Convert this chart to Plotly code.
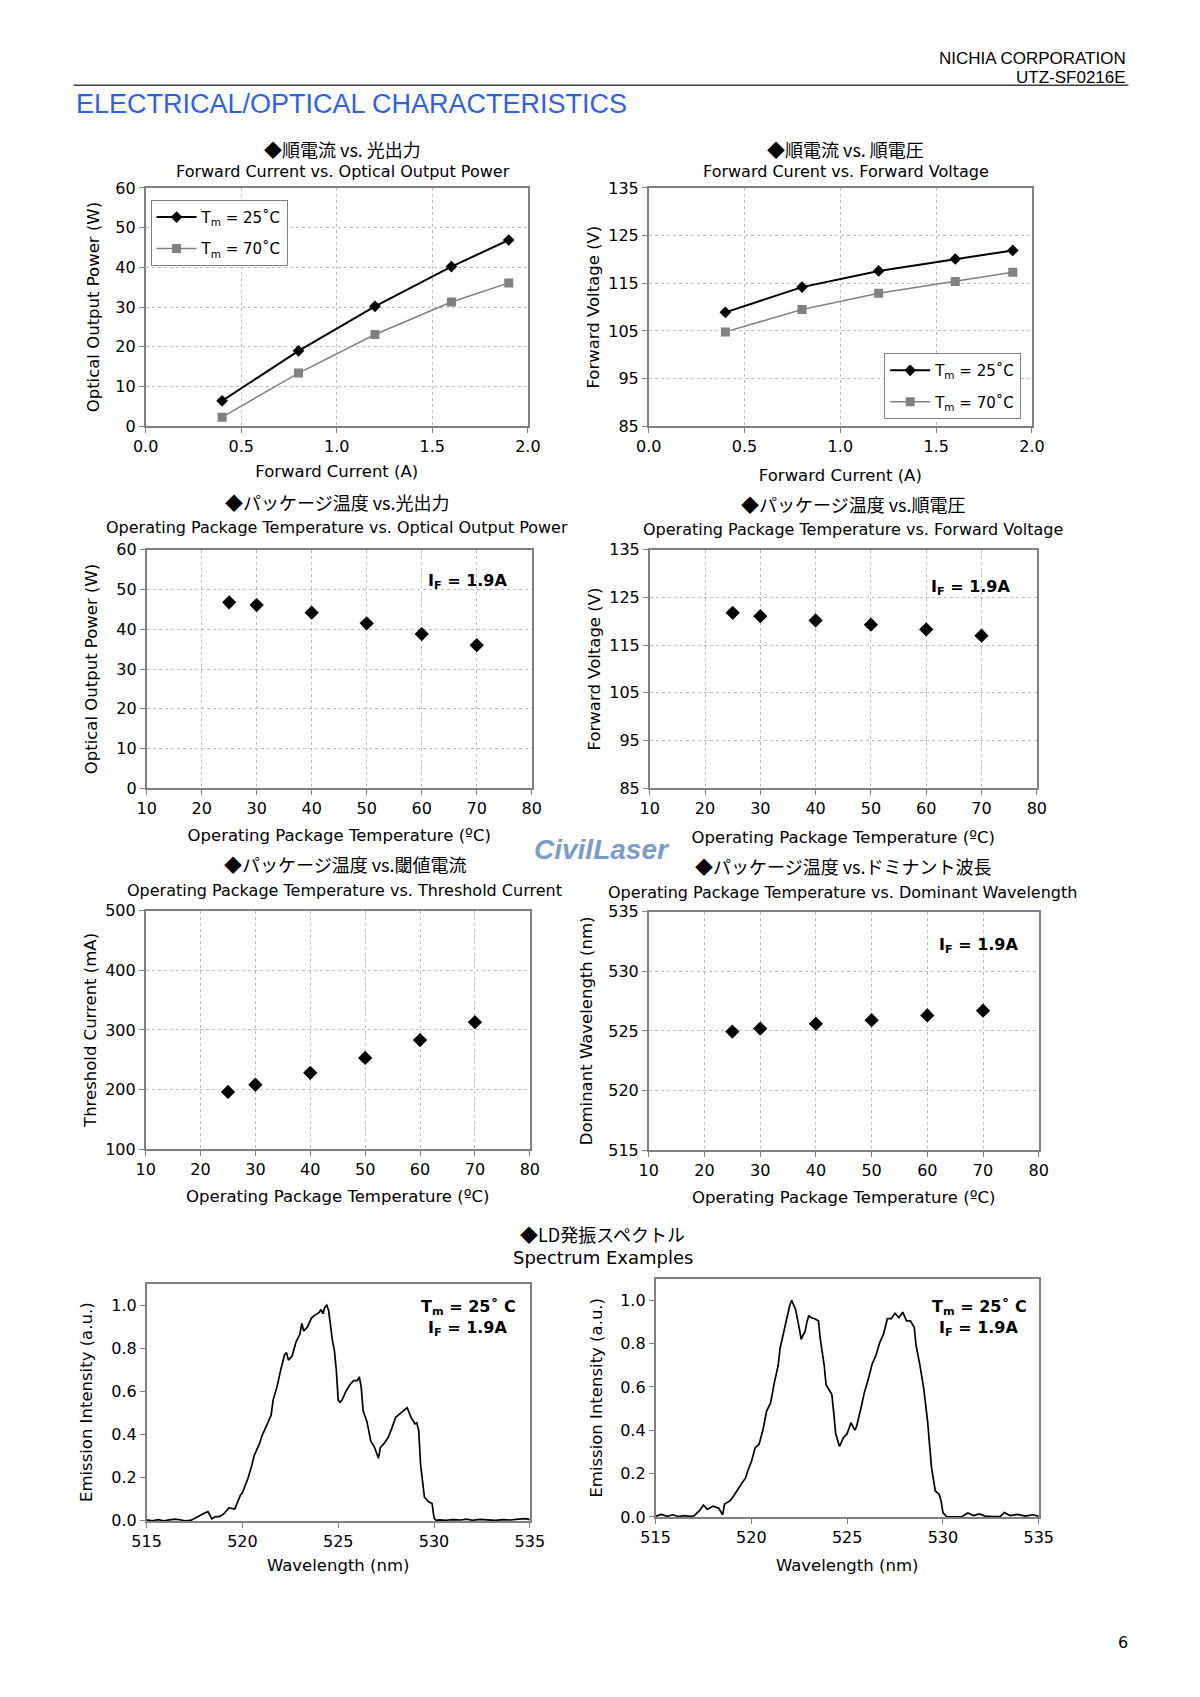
import plotly.graph_objects as go

W, H = 1200, 1697

# ---------------- data ----------------
fc_current = [0.4, 0.8, 1.2, 1.6, 1.9]
pow_25 = [6.4, 19.0, 30.2, 40.2, 46.9]
pow_70 = [2.3, 13.4, 23.1, 31.3, 36.1]
vf_25 = [108.9, 114.2, 117.6, 120.1, 121.9]
vf_70 = [104.8, 109.5, 112.9, 115.4, 117.3]

temps = [25, 30, 40, 50, 60, 70]
pow_t = [46.8, 46.1, 44.2, 41.5, 38.8, 36.0]
vf_t = [121.8, 121.1, 120.2, 119.3, 118.3, 117.0]
ith_t = [196, 208, 228, 253, 283, 313]
wl_t = [524.95, 525.2, 525.6, 525.9, 526.3, 526.7]

spec1_wl = [515.0, 515.3, 515.6, 515.9, 516.2, 516.5, 516.8, 517.0, 517.3, 517.5, 517.8, 518.0, 518.2,
            518.4, 518.6, 518.8, 519.0, 519.3, 519.6, 519.9, 520.0, 520.3, 520.5, 520.6, 520.9, 521.0,
            521.3, 521.5, 521.6, 521.8, 522.0, 522.2, 522.3, 522.4, 522.6, 522.8, 523.0, 523.1, 523.2,
            523.4, 523.6, 523.8, 524.0, 524.1, 524.2, 524.3, 524.4, 524.5, 524.7, 524.8, 524.9, 525.0,
            525.1, 525.2, 525.4, 525.6, 525.8, 526.0, 526.1, 526.2, 526.3, 526.5, 526.7, 526.9, 527.1,
            527.2, 527.4, 527.6, 527.8, 528.0, 528.2, 528.5, 528.6, 528.8, 529.0, 529.1, 529.2, 529.3,
            529.5, 529.7, 529.9, 530.0, 530.1, 530.3, 530.6, 531.0, 531.4, 531.7, 532.0, 532.4, 532.8,
            533.2, 533.6, 534.0, 534.4, 534.8, 535.0]
spec1_int = [0.005, 0.0, 0.006, 0.0, 0.005, 0.008, 0.004, 0.0, 0.002, 0.012, 0.025, 0.035, 0.043,
             0.01, 0.02, 0.02, 0.03, 0.06, 0.055, 0.12, 0.13, 0.2, 0.26, 0.30, 0.36, 0.39,
             0.45, 0.49, 0.56, 0.62, 0.70, 0.77, 0.78, 0.745, 0.765, 0.83, 0.865, 0.915, 0.88,
             0.90, 0.94, 0.955, 0.965, 0.98, 0.96, 0.99, 1.0, 0.975, 0.835, 0.79, 0.70, 0.56,
             0.55, 0.56, 0.60, 0.63, 0.65, 0.65, 0.668, 0.62, 0.51, 0.46, 0.37, 0.34, 0.29,
             0.34, 0.36, 0.385, 0.43, 0.48, 0.495, 0.52, 0.525, 0.48, 0.45, 0.455, 0.42, 0.26,
             0.11, 0.09, 0.08, 0.015, 0.003, 0.005, 0.003, 0.006, 0.004, 0.008, 0.003, 0.007, 0.004,
             0.002, 0.006, 0.004, 0.008, 0.01, 0.006]

spec2_wl = [515.0, 515.3, 515.6, 515.9, 516.2, 516.5, 516.8, 517.0, 517.3, 517.5, 517.7, 518.0, 518.3,
            518.5, 518.6, 518.9, 519.1, 519.3, 519.5, 519.7, 519.8, 520.0, 520.2, 520.4, 520.6, 520.8,
            521.0, 521.2, 521.4, 521.5, 521.7, 521.9, 522.0, 522.1, 522.2, 522.3, 522.5, 522.6, 522.7,
            522.8, 522.9, 523.0, 523.1, 523.3, 523.5, 523.6, 523.8, 523.9, 524.0, 524.2, 524.3, 524.4,
            524.6, 524.8, 525.0, 525.2, 525.4, 525.5, 525.7, 525.9, 526.1, 526.3, 526.5, 526.7, 526.9,
            527.1, 527.3, 527.5, 527.7, 527.9, 528.1, 528.3, 528.5, 528.6, 528.8, 529.0, 529.2, 529.4,
            529.6, 529.8, 529.9, 530.0, 530.2, 530.6, 531.0, 531.3, 531.6, 531.9, 532.2, 532.6, 533.0,
            533.2, 533.5, 533.9, 534.3, 534.7, 535.0]
spec2_int = [0.003, 0.012, 0.003, 0.01, 0.002, 0.006, 0.003, 0.005, 0.03, 0.055, 0.035, 0.05, 0.04,
             0.01, 0.06, 0.075, 0.10, 0.13, 0.155, 0.18, 0.21, 0.255, 0.32, 0.335, 0.40, 0.49,
             0.525, 0.62, 0.70, 0.78, 0.86, 0.945, 0.975, 1.0, 0.98, 0.96, 0.87, 0.82, 0.84,
             0.855, 0.90, 0.93, 0.92, 0.915, 0.905, 0.82, 0.70, 0.61, 0.595, 0.565, 0.48, 0.385,
             0.325, 0.365, 0.385, 0.435, 0.40, 0.42, 0.495, 0.575, 0.635, 0.705, 0.745, 0.805, 0.845,
             0.915, 0.915, 0.94, 0.92, 0.945, 0.905, 0.905, 0.875, 0.79, 0.70, 0.59, 0.44, 0.23,
             0.12, 0.105, 0.075, 0.02, 0.0, 0.0, 0.002, 0.018, 0.006, 0.014, 0.004, 0.002, 0.003,
             0.02, 0.006, 0.012, 0.004, 0.01, 0.003]

# ---------------- layout helpers ----------------
FONT = "DejaVu Sans"
JP = "Noto Sans CJK JP"


def dx(a, b):
    return [a / W, b / W]


def dy(top, bottom):
    return [1 - bottom / H, 1 - top / H]


panels = {
    1: (134, 526, 181, 422),
    2: (650, 1043, 181, 422),
    3: (135, 530, 547, 788),
    4: (651, 1048, 547, 788),
    5: (134, 528, 912, 1153),
    6: (650, 1050, 913, 1154),
    7: (135, 528, 1289, 1529),
    8: (657, 1050, 1284, 1525),
}

fig = go.Figure()

black_line = dict(color="black", width=2)
gray_line = dict(color="#808080", width=1.5)

# Panel 1
fig.add_trace(go.Scatter(x=fc_current, y=pow_25, mode="lines+markers", name="T<sub>m</sub> = 25˚C",
                         line=black_line, marker=dict(symbol="diamond", size=9, color="black"),
                         xaxis="x", yaxis="y", legend="legend", legendgroup="a"))
fig.add_trace(go.Scatter(x=fc_current, y=pow_70, mode="lines+markers", name="T<sub>m</sub> = 70˚C",
                         line=gray_line, marker=dict(symbol="square", size=9, color="#808080"),
                         xaxis="x", yaxis="y", legend="legend", legendgroup="b"))
# Panel 2
fig.add_trace(go.Scatter(x=fc_current, y=vf_25, mode="lines+markers", name="T<sub>m</sub> = 25˚C",
                         line=black_line, marker=dict(symbol="diamond", size=9, color="black"),
                         xaxis="x2", yaxis="y2", legend="legend2", legendgroup="c"))
fig.add_trace(go.Scatter(x=fc_current, y=vf_70, mode="lines+markers", name="T<sub>m</sub> = 70˚C",
                         line=gray_line, marker=dict(symbol="square", size=9, color="#808080"),
                         xaxis="x2", yaxis="y2", legend="legend2", legendgroup="d"))
# Panels 3-6
for k, vals in zip([3, 4, 5, 6], [pow_t, vf_t, ith_t, wl_t]):
    fig.add_trace(go.Scatter(x=temps, y=vals, mode="markers", showlegend=False,
                             marker=dict(symbol="diamond", size=11, color="black"),
                             xaxis=f"x{k}", yaxis=f"y{k}"))
# Spectra
fig.add_trace(go.Scatter(x=spec1_wl, y=spec1_int, mode="lines", showlegend=False,
                         line=dict(color="black", width=1.7), xaxis="x7", yaxis="y7"))
fig.add_trace(go.Scatter(x=spec2_wl, y=spec2_int, mode="lines", showlegend=False,
                         line=dict(color="black", width=1.7), xaxis="x8", yaxis="y8"))

axis_cfg = {
    1: dict(xr=[0, 2], xd=0.5, xf=".1f", yr=[0, 60], yd=10, yf="d",
            xt="Forward Current (A)", yt="Optical Output Power (W)", grid=True),
    2: dict(xr=[0, 2], xd=0.5, xf=".1f", yr=[85, 135], yd=10, yf="d",
            xt="Forward Current (A)", yt="Forward Voltage (V)", grid=True),
    3: dict(xr=[10, 80], xd=10, xf="d", yr=[0, 60], yd=10, yf="d",
            xt="Operating Package Temperature (ºC)", yt="Optical Output Power (W)", grid=True),
    4: dict(xr=[10, 80], xd=10, xf="d", yr=[85, 135], yd=10, yf="d",
            xt="Operating Package Temperature (ºC)", yt="Forward Voltage (V)", grid=True),
    5: dict(xr=[10, 80], xd=10, xf="d", yr=[100, 500], yd=100, yf="d",
            xt="Operating Package Temperature (ºC)", yt="Threshold Current (mA)", grid=True),
    6: dict(xr=[10, 80], xd=10, xf="d", yr=[515, 535], yd=5, yf="d",
            xt="Operating Package Temperature (ºC)", yt="Dominant Wavelength (nm)", grid=True),
    7: dict(xr=[515, 535], xd=5, xf="d", yr=[0, 1.1], yd=0.2, yf=".1f",
            xt="Wavelength (nm)", yt="Emission Intensity (a.u.)", grid=False),
    8: dict(xr=[515, 535], xd=5, xf="d", yr=[0, 1.1], yd=0.2, yf=".1f",
            xt="Wavelength (nm)", yt="Emission Intensity (a.u.)", grid=False),
}

xstand = {1: 10, 2: 14, 3: 12, 4: 14, 5: 12, 6: 12, 7: 10, 8: 14}
ystand = {1: 12, 2: 4, 3: 15, 4: 4, 5: 4, 6: 11, 7: 14, 8: 13}

layout = dict(
    width=W, height=H, margin=dict(l=0, r=0, t=0, b=0),
    paper_bgcolor="white", plot_bgcolor="white",
    font=dict(family=FONT, size=16, color="black"),
)

for k, (x0, x1, y0, y1) in panels.items():
    c = axis_cfg[k]
    sx = "" if k == 1 else str(k)
    tickfont = dict(family=FONT, size=16, color="black")
    layout["xaxis" + sx] = dict(
        domain=dx(x0, x1), anchor="y" + sx, range=c["xr"], dtick=c["xd"], tick0=c["xr"][0],
        tickformat=c["xf"], showgrid=c["grid"], gridcolor="#bdbdbd", griddash="dot", gridwidth=1,
        showline=True, linecolor="#808080", linewidth=1.5, mirror=True,
        ticks="outside", ticklen=5, tickcolor="#808080", tickfont=tickfont,
        title=dict(text=c["xt"], font=dict(family=FONT, size=16.5), standoff=xstand[k]),
        zeroline=False, fixedrange=True,
    )
    layout["yaxis" + sx] = dict(
        domain=dy(y0, y1), anchor="x" + sx, range=c["yr"], dtick=c["yd"], tick0=c["yr"][0],
        tickformat=c["yf"], showgrid=c["grid"], gridcolor="#bdbdbd", griddash="dot", gridwidth=1,
        showline=True, linecolor="#808080", linewidth=1.5, mirror=True,
        ticks="outside", ticklen=5, tickcolor="#808080", tickfont=tickfont,
        title=dict(text=c["yt"], font=dict(family=FONT, size=16.5), standoff=ystand[k]),
        zeroline=False, fixedrange=True,
    )

legend_common = dict(bgcolor="white", bordercolor="#808080", borderwidth=1,
                     font=dict(family=FONT, size=15), itemwidth=40, tracegroupgap=9,
                     yanchor="top")
layout["legend"] = dict(x=139 / W, y=1 - 193 / H, xanchor="left", **legend_common)
layout["legend2"] = dict(x=1032 / W, y=1 - 348 / H, xanchor="right", **legend_common)

fig.update_layout(**layout)


def text(x, y, s, size=15, family=FONT, color="black", xanchor="center", bold=False, italic=False):
    if bold:
        s = "<b>" + s + "</b>"
    if italic:
        s = "<i>" + s + "</i>"
    fig.add_annotation(x=x / W, y=1 - y / H, xref="paper", yref="paper", text=s, showarrow=False,
                       font=dict(family=family, size=size, color=color), xanchor=xanchor,
                       yanchor="middle")


# Header
text(1142, 50, "NICHIA CORPORATION", size=17, family="Liberation Sans", xanchor="right")
text(1142, 69, "UTZ-SF0216E", size=17, family="Liberation Sans", xanchor="right")
fig.add_shape(type="line", xref="paper", yref="paper", x0=60 / W, x1=1142 / W,
              y0=1 - 77 / H, y1=1 - 77 / H, line=dict(color="#404040", width=1.5))
text(60, 96, "ELECTRICAL/OPTICAL CHARACTERISTICS", size=27, family="Liberation Sans",
     color="#2f5ff0", xanchor="left")

# Chart titles
text(336, 142, "◆順電流 vs. 光出力", size=18, family=JP)
text(336, 164, "Forward Current vs. Optical Output Power", size=16)
text(852, 142, "◆順電流 vs. 順電圧", size=18, family=JP)
text(852, 164, "Forward Curent vs. Forward Voltage", size=16)
text(330, 499, "◆パッケージ温度 vs.光出力", size=18, family=JP)
text(330, 524, "Operating Package Temperature vs. Optical Output Power", size=16)
text(859, 501, "◆パッケージ温度 vs.順電圧", size=18, family=JP)
text(859, 526, "Operating Package Temperature vs. Forward Voltage", size=16)
text(338, 865, "◆パッケージ温度 vs.閾値電流", size=18, family=JP)
text(338, 891, "Operating Package Temperature vs. Threshold Current", size=16)
text(849, 867, "◆パッケージ温度 vs.ドミナント波長", size=18, family=JP)
text(849, 894, "Operating Package Temperature vs. Dominant Wavelength", size=16)
text(603, 1239, "◆LD発振スペクトル", size=18, family=JP)
text(603, 1263, "Spectrum Examples", size=18)

# In-plot annotations
text(465, 579, "I<sub>F</sub> = 1.9A", size=16, bold=True)
text(981, 585, "I<sub>F</sub> = 1.9A", size=16, bold=True)
text(989, 947, "I<sub>F</sub> = 1.9A", size=16, bold=True)
text(465, 1313, "T<sub>m</sub> = 25˚ C", size=16, bold=True)
text(465, 1334, "I<sub>F</sub> = 1.9A", size=16, bold=True)
text(989, 1313, "T<sub>m</sub> = 25˚ C", size=16, bold=True)
text(989, 1334, "I<sub>F</sub> = 1.9A", size=16, bold=True)

# Watermark
text(602, 850, "CivilLaser", size=28, family="Liberation Sans", color="#7b9cc9", bold=True, italic=True)

# Page number
text(1136, 1652, "6", size=16)

fig.write_html("out.html", config={"displayModeBar": False},
               post_script="document.body.style.margin='0px';")
